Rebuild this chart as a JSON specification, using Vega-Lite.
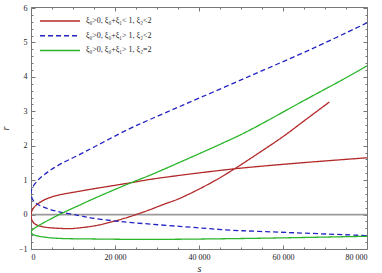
{
  "$schema": "https://vega.github.io/schema/vega-lite/v6.json",
  "width": 336,
  "height": 242,
  "autosize": "none",
  "padding": {"left": 31, "top": 7, "right": 15, "bottom": 24},
  "background": "white",
  "config": {
    "view": {"stroke": null},
    "font": "Liberation Serif",
    "axis": {"labelFont": "Liberation Serif", "titleFont": "Liberation Serif", "labelFontSize": 8, "labelColor": "#222", "domainColor": "#777", "tickColor": "#777", "grid": false}
  },
  "datasets": {
    "zero": [{"s": 0, "r": 0}, {"s": 80000, "r": 0}],
    "curves": [
      {"k": "ξ₀>0, ξ₀+ξ₁< 1, ξ₂<2", "t": 1, "s": 80000, "r": 1.65},
      {"k": "ξ₀>0, ξ₀+ξ₁< 1, ξ₂<2", "t": 2, "s": 65000, "r": 1.51},
      {"k": "ξ₀>0, ξ₀+ξ₁< 1, ξ₂<2", "t": 3, "s": 54410, "r": 1.40},
      {"k": "ξ₀>0, ξ₀+ξ₁< 1, ξ₂<2", "t": 4, "s": 48470, "r": 1.33},
      {"k": "ξ₀>0, ξ₀+ξ₁< 1, ξ₂<2", "t": 5, "s": 39370, "r": 1.20},
      {"k": "ξ₀>0, ξ₀+ξ₁< 1, ξ₂<2", "t": 6, "s": 28270, "r": 1.02},
      {"k": "ξ₀>0, ξ₀+ξ₁< 1, ξ₂<2", "t": 7, "s": 23520, "r": 0.92},
      {"k": "ξ₀>0, ξ₀+ξ₁< 1, ξ₂<2", "t": 8, "s": 15440, "r": 0.76},
      {"k": "ξ₀>0, ξ₀+ξ₁< 1, ξ₂<2", "t": 9, "s": 10690, "r": 0.66},
      {"k": "ξ₀>0, ξ₀+ξ₁< 1, ξ₂<2", "t": 10, "s": 6730, "r": 0.57},
      {"k": "ξ₀>0, ξ₀+ξ₁< 1, ξ₂<2", "t": 11, "s": 3560, "r": 0.45},
      {"k": "ξ₀>0, ξ₀+ξ₁< 1, ξ₂<2", "t": 12, "s": 1190, "r": 0.27},
      {"k": "ξ₀>0, ξ₀+ξ₁< 1, ξ₂<2", "t": 13, "s": 250, "r": 0.12},
      {"k": "ξ₀>0, ξ₀+ξ₁< 1, ξ₂<2", "t": 14, "s": 0, "r": -0.03},
      {"k": "ξ₀>0, ξ₀+ξ₁< 1, ξ₂<2", "t": 15, "s": 250, "r": -0.17},
      {"k": "ξ₀>0, ξ₀+ξ₁< 1, ξ₂<2", "t": 16, "s": 790, "r": -0.26},
      {"k": "ξ₀>0, ξ₀+ξ₁< 1, ξ₂<2", "t": 17, "s": 2000, "r": -0.33},
      {"k": "ξ₀>0, ξ₀+ξ₁< 1, ξ₂<2", "t": 18, "s": 3560, "r": -0.37},
      {"k": "ξ₀>0, ξ₀+ξ₁< 1, ξ₂<2", "t": 19, "s": 6730, "r": -0.40},
      {"k": "ξ₀>0, ξ₀+ξ₁< 1, ξ₂<2", "t": 20, "s": 9000, "r": -0.41},
      {"k": "ξ₀>0, ξ₀+ξ₁< 1, ξ₂<2", "t": 21, "s": 12000, "r": -0.38},
      {"k": "ξ₀>0, ξ₀+ξ₁< 1, ξ₂<2", "t": 22, "s": 15440, "r": -0.32},
      {"k": "ξ₀>0, ξ₀+ξ₁< 1, ξ₂<2", "t": 23, "s": 19560, "r": -0.20},
      {"k": "ξ₀>0, ξ₀+ξ₁< 1, ξ₂<2", "t": 24, "s": 23520, "r": -0.06},
      {"k": "ξ₀>0, ξ₀+ξ₁< 1, ξ₂<2", "t": 25, "s": 28270, "r": 0.14},
      {"k": "ξ₀>0, ξ₀+ξ₁< 1, ξ₂<2", "t": 26, "s": 31430, "r": 0.29},
      {"k": "ξ₀>0, ξ₀+ξ₁< 1, ξ₂<2", "t": 27, "s": 35000, "r": 0.45},
      {"k": "ξ₀>0, ξ₀+ξ₁< 1, ξ₂<2", "t": 28, "s": 39370, "r": 0.70},
      {"k": "ξ₀>0, ξ₀+ξ₁< 1, ξ₂<2", "t": 29, "s": 44000, "r": 1.00},
      {"k": "ξ₀>0, ξ₀+ξ₁< 1, ξ₂<2", "t": 30, "s": 48470, "r": 1.33},
      {"k": "ξ₀>0, ξ₀+ξ₁< 1, ξ₂<2", "t": 31, "s": 54000, "r": 1.77},
      {"k": "ξ₀>0, ξ₀+ξ₁< 1, ξ₂<2", "t": 32, "s": 59950, "r": 2.26},
      {"k": "ξ₀>0, ξ₀+ξ₁< 1, ξ₂<2", "t": 33, "s": 65000, "r": 2.72},
      {"k": "ξ₀>0, ξ₀+ξ₁< 1, ξ₂<2", "t": 34, "s": 71040, "r": 3.27},

      {"k": "ξ₀>0, ξ₀+ξ₁> 1, ξ₂<2", "t": 1, "s": 80000, "r": 5.57},
      {"k": "ξ₀>0, ξ₀+ξ₁> 1, ξ₂<2", "t": 2, "s": 67880, "r": 4.87},
      {"k": "ξ₀>0, ξ₀+ξ₁> 1, ξ₂<2", "t": 3, "s": 52030, "r": 4.02},
      {"k": "ξ₀>0, ξ₀+ξ₁> 1, ξ₂<2", "t": 4, "s": 36190, "r": 3.18},
      {"k": "ξ₀>0, ξ₀+ξ₁> 1, ξ₂<2", "t": 5, "s": 28270, "r": 2.76},
      {"k": "ξ₀>0, ξ₀+ξ₁> 1, ξ₂<2", "t": 6, "s": 23050, "r": 2.47},
      {"k": "ξ₀>0, ξ₀+ξ₁> 1, ξ₂<2", "t": 7, "s": 15130, "r": 1.97},
      {"k": "ξ₀>0, ξ₀+ξ₁> 1, ξ₂<2", "t": 8, "s": 11170, "r": 1.72},
      {"k": "ξ₀>0, ξ₀+ξ₁> 1, ξ₂<2", "t": 9, "s": 7200, "r": 1.48},
      {"k": "ξ₀>0, ξ₀+ξ₁> 1, ξ₂<2", "t": 10, "s": 4040, "r": 1.24},
      {"k": "ξ₀>0, ξ₀+ξ₁> 1, ξ₂<2", "t": 11, "s": 1660, "r": 1.00},
      {"k": "ξ₀>0, ξ₀+ξ₁> 1, ξ₂<2", "t": 12, "s": 240, "r": 0.76},
      {"k": "ξ₀>0, ξ₀+ξ₁> 1, ξ₂<2", "t": 13, "s": 0, "r": 0.62},
      {"k": "ξ₀>0, ξ₀+ξ₁> 1, ξ₂<2", "t": 14, "s": 300, "r": 0.46},
      {"k": "ξ₀>0, ξ₀+ξ₁> 1, ξ₂<2", "t": 15, "s": 1190, "r": 0.33},
      {"k": "ξ₀>0, ξ₀+ξ₁> 1, ξ₂<2", "t": 16, "s": 3330, "r": 0.20},
      {"k": "ξ₀>0, ξ₀+ξ₁> 1, ξ₂<2", "t": 17, "s": 6730, "r": 0.08},
      {"k": "ξ₀>0, ξ₀+ξ₁> 1, ξ₂<2", "t": 18, "s": 11480, "r": -0.03},
      {"k": "ξ₀>0, ξ₀+ξ₁> 1, ξ₂<2", "t": 19, "s": 14420, "r": -0.10},
      {"k": "ξ₀>0, ξ₀+ξ₁> 1, ξ₂<2", "t": 20, "s": 19560, "r": -0.18},
      {"k": "ξ₀>0, ξ₀+ξ₁> 1, ξ₂<2", "t": 21, "s": 24710, "r": -0.24},
      {"k": "ξ₀>0, ξ₀+ξ₁> 1, ξ₂<2", "t": 22, "s": 39370, "r": -0.38},
      {"k": "ξ₀>0, ξ₀+ξ₁> 1, ξ₂<2", "t": 23, "s": 47280, "r": -0.45},
      {"k": "ξ₀>0, ξ₀+ξ₁> 1, ξ₂<2", "t": 24, "s": 54410, "r": -0.49},
      {"k": "ξ₀>0, ξ₀+ξ₁> 1, ξ₂<2", "t": 25, "s": 63130, "r": -0.53},
      {"k": "ξ₀>0, ξ₀+ξ₁> 1, ξ₂<2", "t": 26, "s": 80000, "r": -0.61},

      {"k": "ξ₀>0, ξ₀+ξ₁> 1, ξ₂=2", "t": 1, "s": 80000, "r": 4.32},
      {"k": "ξ₀>0, ξ₀+ξ₁> 1, ξ₂=2", "t": 2, "s": 74200, "r": 3.92},
      {"k": "ξ₀>0, ξ₀+ξ₁> 1, ξ₂=2", "t": 3, "s": 65100, "r": 3.32},
      {"k": "ξ₀>0, ξ₀+ξ₁> 1, ξ₂=2", "t": 4, "s": 51250, "r": 2.40},
      {"k": "ξ₀>0, ξ₀+ξ₁> 1, ξ₂=2", "t": 5, "s": 45000, "r": 2.04},
      {"k": "ξ₀>0, ξ₀+ξ₁> 1, ξ₂=2", "t": 6, "s": 36190, "r": 1.56},
      {"k": "ξ₀>0, ξ₀+ξ₁> 1, ξ₂=2", "t": 7, "s": 28270, "r": 1.14},
      {"k": "ξ₀>0, ξ₀+ξ₁> 1, ξ₂=2", "t": 8, "s": 23520, "r": 0.91},
      {"k": "ξ₀>0, ξ₀+ξ₁> 1, ξ₂=2", "t": 9, "s": 15440, "r": 0.49},
      {"k": "ξ₀>0, ξ₀+ξ₁> 1, ξ₂=2", "t": 10, "s": 11480, "r": 0.27},
      {"k": "ξ₀>0, ξ₀+ξ₁> 1, ξ₂=2", "t": 11, "s": 6730, "r": 0.0},
      {"k": "ξ₀>0, ξ₀+ξ₁> 1, ξ₂=2", "t": 12, "s": 1980, "r": -0.31},
      {"k": "ξ₀>0, ξ₀+ξ₁> 1, ξ₂=2", "t": 13, "s": 500, "r": -0.43},
      {"k": "ξ₀>0, ξ₀+ξ₁> 1, ξ₂=2", "t": 14, "s": 0, "r": -0.50},
      {"k": "ξ₀>0, ξ₀+ξ₁> 1, ξ₂=2", "t": 15, "s": 400, "r": -0.57},
      {"k": "ξ₀>0, ξ₀+ξ₁> 1, ξ₂=2", "t": 16, "s": 1190, "r": -0.61},
      {"k": "ξ₀>0, ξ₀+ξ₁> 1, ξ₂=2", "t": 17, "s": 5150, "r": -0.68},
      {"k": "ξ₀>0, ξ₀+ξ₁> 1, ξ₂=2", "t": 18, "s": 15440, "r": -0.71},
      {"k": "ξ₀>0, ξ₀+ξ₁> 1, ξ₂=2", "t": 19, "s": 30000, "r": -0.72},
      {"k": "ξ₀>0, ξ₀+ξ₁> 1, ξ₂=2", "t": 20, "s": 47280, "r": -0.70},
      {"k": "ξ₀>0, ξ₀+ξ₁> 1, ξ₂=2", "t": 21, "s": 63000, "r": -0.67},
      {"k": "ξ₀>0, ξ₀+ξ₁> 1, ξ₂=2", "t": 22, "s": 80000, "r": -0.63}
    ]
  },
  "resolve": {"axis": {"x": "independent", "y": "independent"}},
  "layer": [
    {
      "data": {"name": "zero"},
      "mark": {"type": "line", "color": "#9a9a9a", "strokeWidth": 1.8, "clip": true},
      "encoding": {
        "x": {"field": "s", "type": "quantitative", "scale": {"domain": [0, 80000], "nice": false, "zero": false},
              "axis": {"orient": "bottom", "values": [0, 20000, 40000, 60000, 80000], "tickSize": -4, "labelPadding": 8, "labelExpr": "datum.value == 0 ? '0' : format(datum.value / 1000, 'd') + ' 000'", "title": "s", "titleFontStyle": "italic", "titleFontWeight": "normal", "titleFontSize": 10, "titlePadding": 2, "titleColor": "#222"}},
        "y": {"field": "r", "type": "quantitative", "scale": {"domain": [-1, 6.03], "nice": false, "zero": false},
              "axis": {"orient": "left", "values": [-1, 0, 1, 2, 3, 4, 5, 6], "tickSize": -4, "labelPadding": 8, "title": "r", "titleFontStyle": "italic", "titleFontWeight": "normal", "titleFontSize": 10, "titlePadding": 8, "titleColor": "#222"}}
      }
    },
    {
      "data": {"name": "curves"},
      "mark": {"type": "line", "strokeWidth": 1.3, "clip": true, "interpolate": "catmull-rom"},
      "encoding": {
        "x": {"field": "s", "type": "quantitative",
              "axis": {"orient": "bottom", "values": [5000, 10000, 15000, 25000, 30000, 35000, 45000, 50000, 55000, 65000, 70000, 75000], "tickSize": -2, "labels": false, "domain": false, "title": null}},
        "y": {"field": "r", "type": "quantitative",
              "axis": {"orient": "left", "values": [-0.8, -0.6, -0.4, -0.2, 0.2, 0.4, 0.6, 0.8, 1.2, 1.4, 1.6, 1.8, 2.2, 2.4, 2.6, 2.8, 3.2, 3.4, 3.6, 3.8, 4.2, 4.4, 4.6, 4.8, 5.2, 5.4, 5.6, 5.8], "tickSize": -2, "labels": false, "domain": false, "title": null}},
        "order": {"field": "t", "type": "quantitative"},
        "color": {"field": "k", "type": "nominal", "title": null,
                  "scale": {"domain": ["ξ₀>0, ξ₀+ξ₁< 1, ξ₂<2", "ξ₀>0, ξ₀+ξ₁> 1, ξ₂<2", "ξ₀>0, ξ₀+ξ₁> 1, ξ₂=2"], "range": ["#b22a2a", "#2323c3", "#2bb52b"]},
                  "legend": {"orient": "none", "legendX": 8, "legendY": 8.5, "symbolType": "stroke", "symbolSize": 1600, "symbolStrokeWidth": 1.5, "clipHeight": 11, "labelFont": "Liberation Serif", "labelFontSize": 8, "labelColor": "#222", "rowPadding": 3.7, "labelOffset": 5, "padding": 0}},
        "strokeDash": {"field": "k", "type": "nominal", "title": null,
                  "scale": {"domain": ["ξ₀>0, ξ₀+ξ₁< 1, ξ₂<2", "ξ₀>0, ξ₀+ξ₁> 1, ξ₂<2", "ξ₀>0, ξ₀+ξ₁> 1, ξ₂=2"], "range": [[1, 0], [5, 3], [1, 0]]}}
      }
    },
    {
      "data": {"name": "zero"},
      "mark": {"type": "line", "opacity": 0},
      "encoding": {
        "x": {"field": "s", "type": "quantitative", "axis": {"orient": "top", "values": [0, 20000, 40000, 60000, 80000], "tickSize": -4, "labels": false, "title": null}},
        "y": {"field": "r", "type": "quantitative", "axis": {"orient": "right", "values": [-1, 0, 1, 2, 3, 4, 5, 6], "tickSize": -4, "labels": false, "title": null}}
      }
    },
    {
      "data": {"name": "zero"},
      "mark": {"type": "line", "opacity": 0},
      "encoding": {
        "x": {"field": "s", "type": "quantitative", "axis": {"orient": "top", "values": [5000, 10000, 15000, 25000, 30000, 35000, 45000, 50000, 55000, 65000, 70000, 75000], "tickSize": -2, "labels": false, "domain": false, "title": null}},
        "y": {"field": "r", "type": "quantitative", "axis": {"orient": "right", "values": [-0.8, -0.6, -0.4, -0.2, 0.2, 0.4, 0.6, 0.8, 1.2, 1.4, 1.6, 1.8, 2.2, 2.4, 2.6, 2.8, 3.2, 3.4, 3.6, 3.8, 4.2, 4.4, 4.6, 4.8, 5.2, 5.4, 5.6, 5.8], "tickSize": -2, "labels": false, "domain": false, "title": null}}
      }
    }
  ]
}
